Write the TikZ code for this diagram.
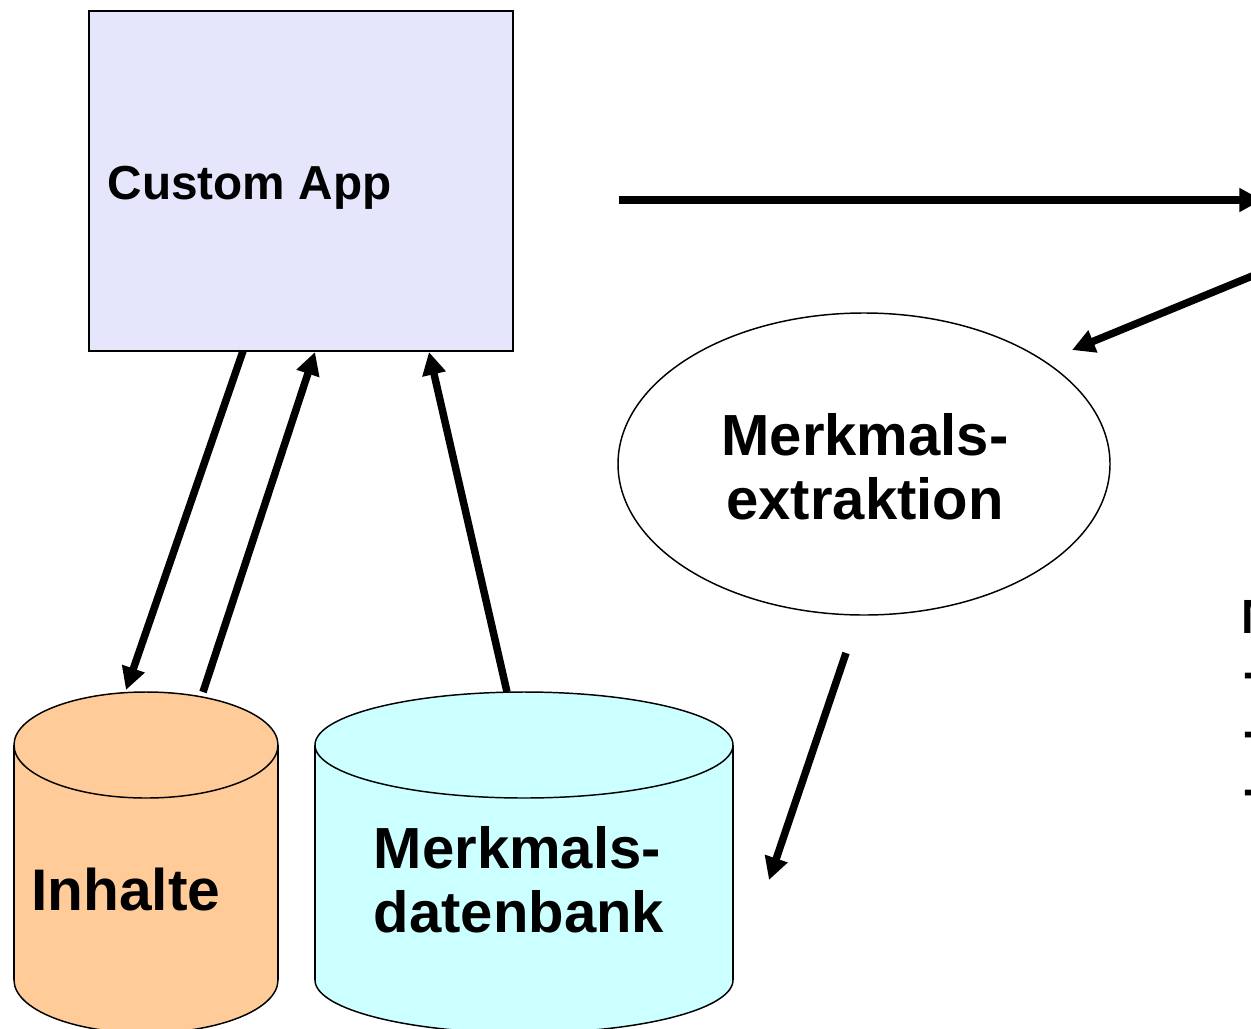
\documentclass[tikz,border=0pt]{standalone}
\usepackage{fontspec}
\setmainfont{Liberation Sans}
\usetikzlibrary{arrows.meta,shapes.geometric}
\definecolor{appfill}{RGB}{229,229,252}
\definecolor{inhfill}{RGB}{255,204,153}
\definecolor{dbfill}{RGB}{204,255,255}
\begin{document}
\begin{tikzpicture}[x=0.75pt,y=-0.75pt,
  conn/.style={line width=5.6pt,-{Triangle[length=17pt,width=17pt]}},
  bigtxt/.style={font=\bfseries\fontsize{43.5pt}{48pt}\selectfont, inner sep=0pt},
  apptxt/.style={font=\bfseries\fontsize{35.8pt}{42pt}\selectfont, inner sep=0pt},
  sidetxt/.style={font=\bfseries\fontsize{36pt}{42pt}\selectfont, inner sep=0pt},
  outline/.style={draw=black, line width=1.1pt}]
\useasboundingbox (0,0) rectangle (1251,1028);

% Custom App box
\node[outline, line width=1.5pt, fill=appfill, minimum width=318pt, minimum height=255pt,
      inner sep=0pt, outer sep=0pt, anchor=north west] (app) at (89,11) {};
\node[apptxt, anchor=base west] (apptext) at (107.5,199) {Custom App};

% Merkmalsextraktion ellipse
\node[ellipse, outline, minimum width=369pt, minimum height=226.5pt, inner sep=0pt] (extr) at (864,464) {};
\node[bigtxt, align=center] (extrtext) at (865,467) {Merkmals-\\extraktion};

% Inhalte cylinder
\filldraw[outline, fill=inhfill] (146,980) ellipse [x radius=132, y radius=53];
\fill[inhfill] (14,745) rectangle (278,980);
\draw[outline] (14,745) -- (14,980) (278,745) -- (278,980);
\filldraw[outline, fill=inhfill] (146,745) ellipse [x radius=132, y radius=53];
\node[bigtxt, font=\bfseries\fontsize{44pt}{48pt}\selectfont, anchor=base west] (inh) at (31,910) {Inhalte};

% Merkmalsdatenbank cylinder
\filldraw[outline, fill=dbfill] (524,980) ellipse [x radius=209, y radius=53];
\fill[dbfill] (315,745) rectangle (733,980);
\draw[outline] (315,745) -- (315,980) (733,745) -- (733,980);
\filldraw[outline, fill=dbfill] (524,745) ellipse [x radius=209, y radius=53];
\node[bigtxt, align=left] (db) at (519,880) {Merkmals-\\datenbank};

% partially visible text at the right edge
\node[sidetxt, anchor=base west] (cut1) at (1241.5,633) {M};
\node[sidetxt, anchor=base west] (cut2) at (1243,688) {-};
\node[sidetxt, anchor=base west] (cut3) at (1243,747) {-};
\node[sidetxt, anchor=base west] (cut4) at (1243,805) {-};

% connector end points
\coordinate (a1s) at (243,351);
\coordinate (a1e) at (126,690);
\coordinate (a2s) at (203,692);
\coordinate (a2e) at (315,352);
\coordinate (a3s) at (507,692);
\coordinate (a3e) at (429,352);
\coordinate (a4s) at (619,200);
\coordinate (a4e) at (1262,200);
\coordinate (a5s) at (1262,272);
\coordinate (a5e) at (1072,350);
\coordinate (a6s) at (846,653);
\coordinate (a6e) at (769,880);

\draw[conn] (a1s) -- (a1e);
\draw[conn] (a2s) -- (a2e);
\draw[conn] (a3s) -- (a3e);
\draw[conn] (a4s) -- (a4e);
\draw[conn] (a5s) -- (a5e);
\draw[conn] (a6s) -- (a6e);
\end{tikzpicture}
\end{document}
